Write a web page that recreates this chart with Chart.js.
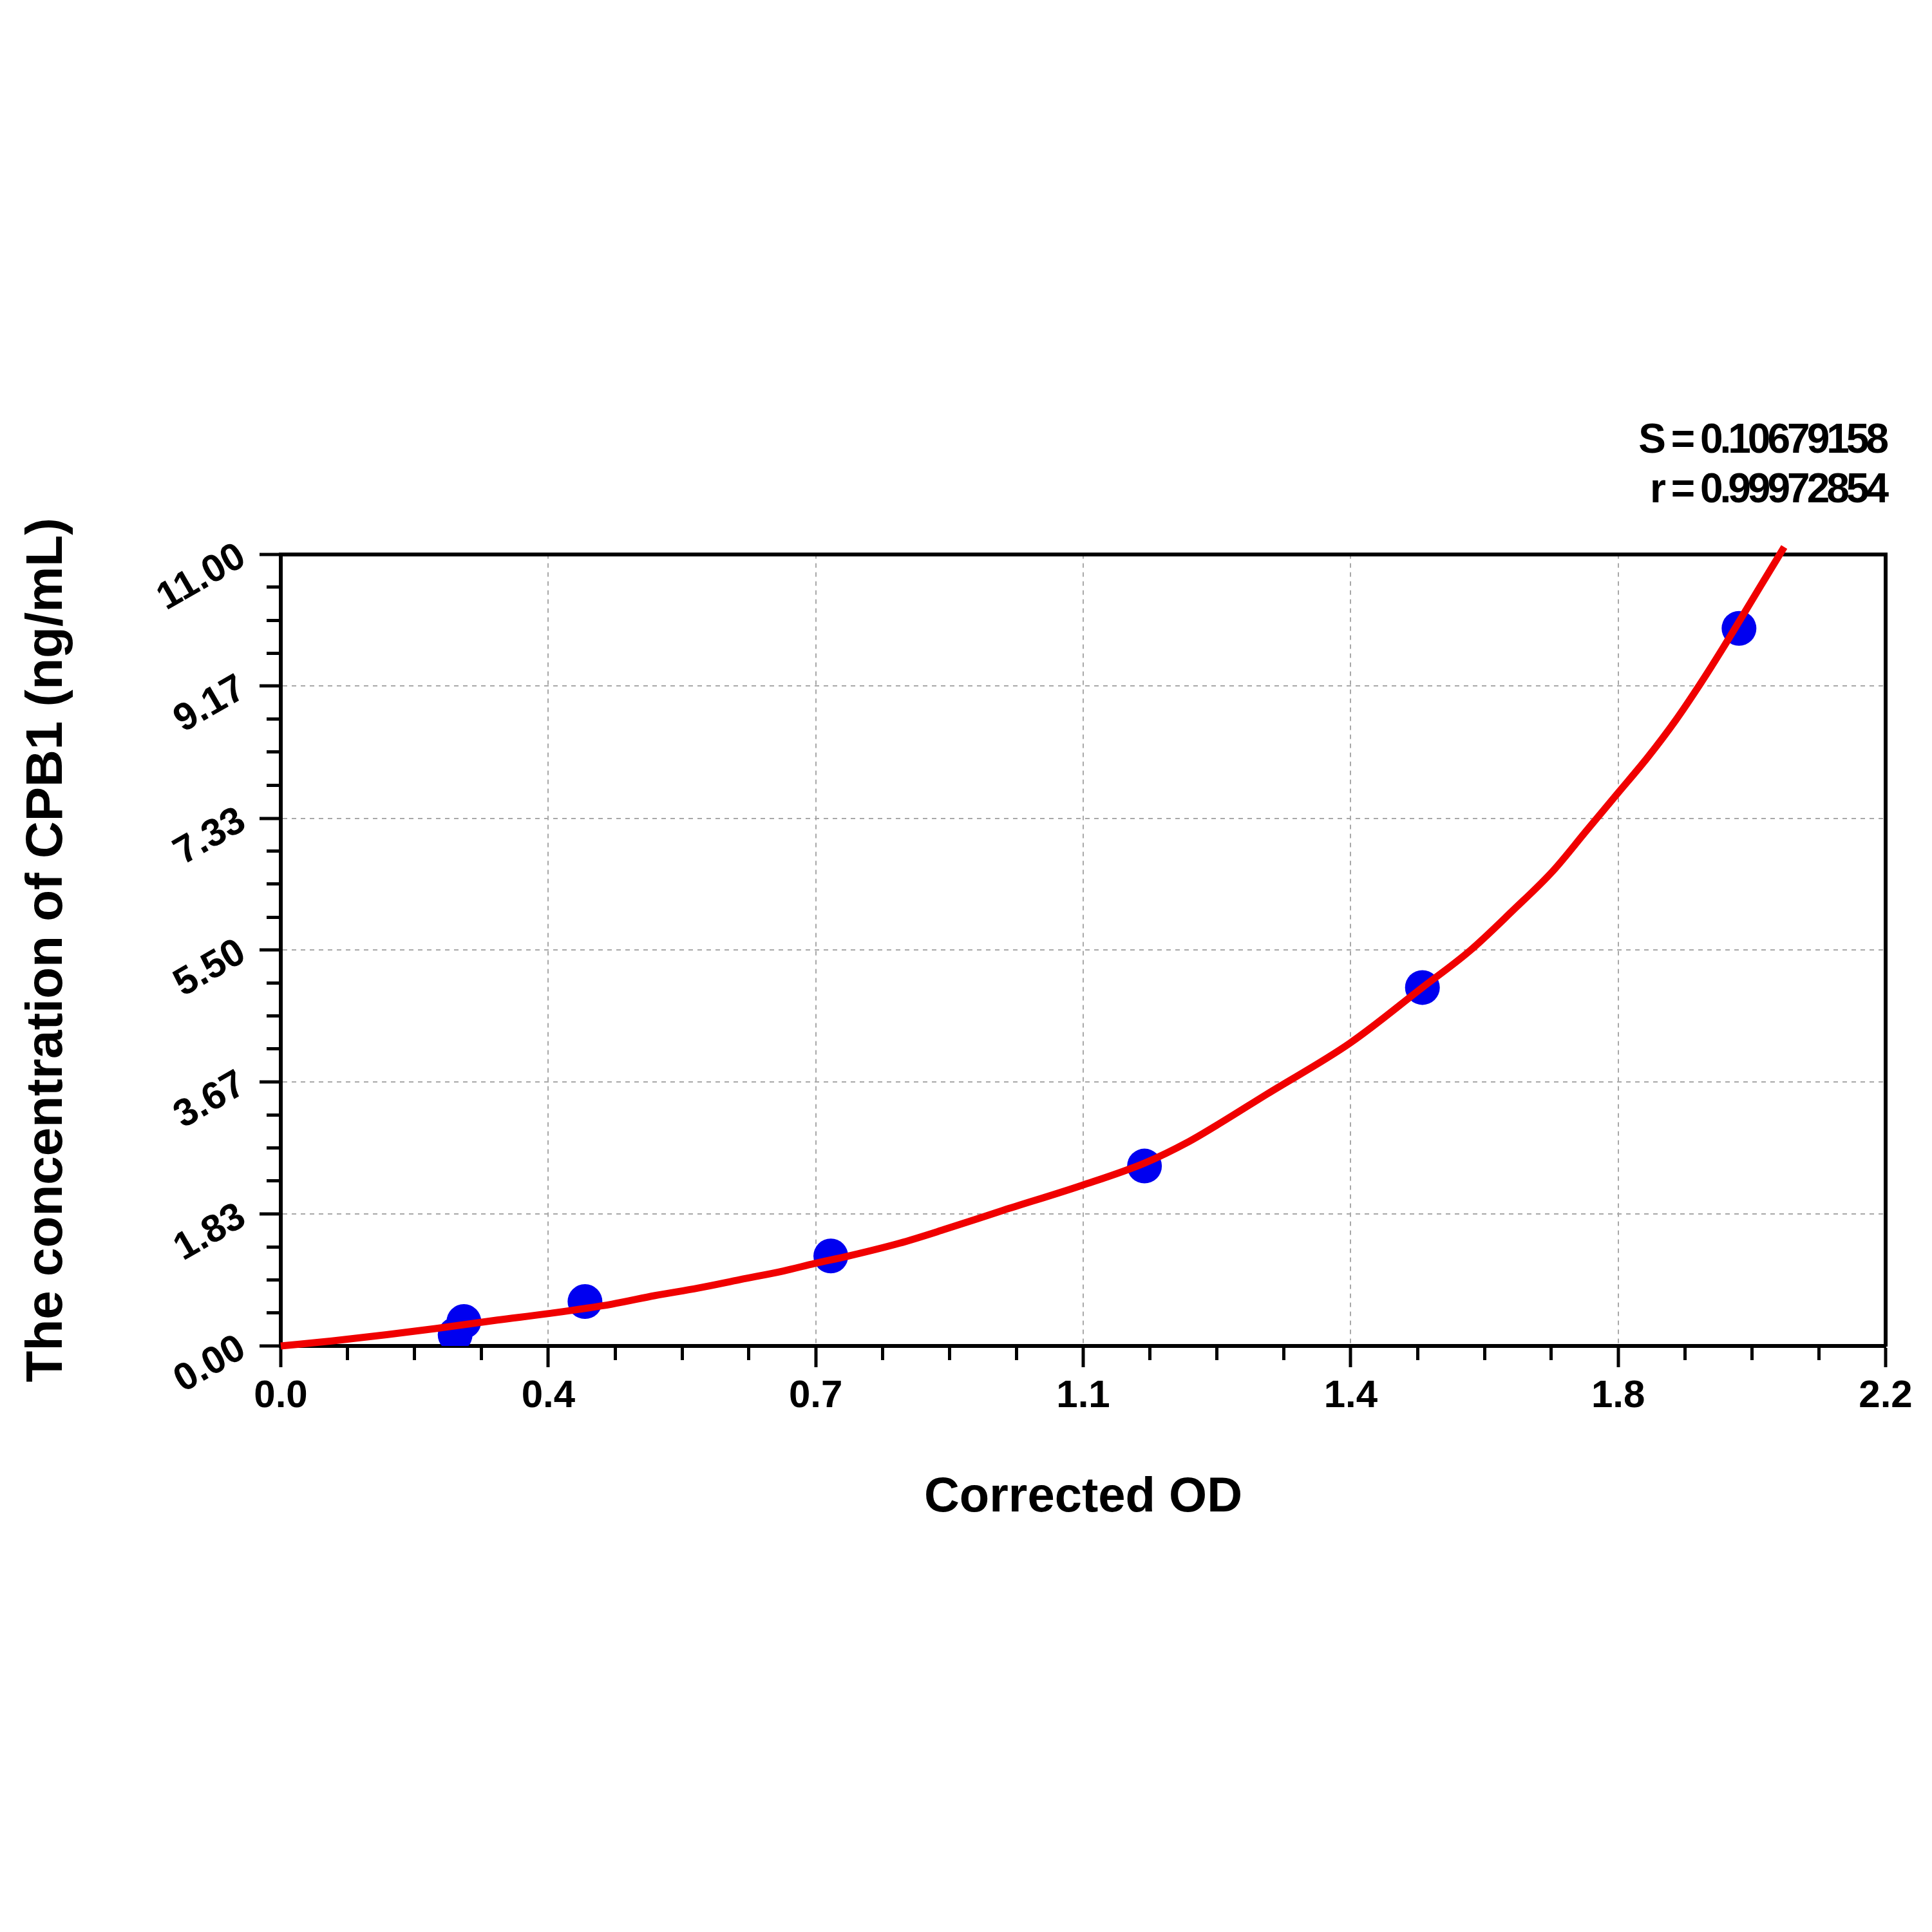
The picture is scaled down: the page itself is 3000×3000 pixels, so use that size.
<!DOCTYPE html>
<html>
<head>
<meta charset="utf-8">
<title>CPB1 standard curve</title>
<script src="https://cdn.jsdelivr.net/npm/chart.js@4.4.1/dist/chart.umd.min.js"></script>
<style>
  html, body { margin: 0; padding: 0; background: #fff; }
  #wrap { width: 3000px; height: 3000px; position: relative; }
</style>
</head>
<body>
<div id="wrap"><canvas id="curve-chart"></canvas></div>
<script>
// standards (blue dots)
const standardOD = [0.239, 0.251, 0.417, 0.754, 1.184, 1.565, 1.999];
const standardConc = [0.156, 0.34, 0.617, 1.25, 2.50, 4.98, 9.97];

// fitted curve (red line)
const fitOD = [0, 0.07, 0.145, 0.212, 0.297, 0.364, 0.454, 0.513, 0.572, 0.630, 0.689, 0.732, 0.778, 0.848, 0.911, 0.990, 1.098, 1.184, 1.245, 1.282, 1.352, 1.466, 1.565, 1.630, 1.689, 1.744, 1.790, 1.832, 1.874, 1.912, 1.946, 1.976, 2.031, 2.061];
const fitConc = [0, 0.07, 0.156, 0.241, 0.36, 0.446, 0.581, 0.70, 0.804, 0.923, 1.042, 1.146, 1.249, 1.427, 1.623, 1.883, 2.23, 2.54, 2.84, 3.06, 3.50, 4.21, 4.98, 5.49, 6.05, 6.60, 7.16, 7.67, 8.18, 8.69, 9.20, 9.68, 10.6, 11.1];

// axis ticks
const xTickValues = [0, 0.36667, 0.73333, 1.1, 1.46667, 1.83333, 2.2];
const xTickLabels = ['0.0', '0.4', '0.7', '1.1', '1.4', '1.8', '2.2'];
const yTickLabels = ['0.00', '1.83', '3.67', '5.50', '7.33', '9.17', '11.00'];

const statLines = ['S = 0.10679158', 'r = 0.99972854'];

const xMax = 2.2;
const yMax = 11;
const minorSteps = 24;

Chart.defaults.font.family = "'Liberation Sans', Arial, sans-serif";
Chart.defaults.font.weight = 'bold';
Chart.defaults.color = '#000';

function minorTicks(max) {
  return (axis) => {
    let t = [];
    for (let i = 0; i <= minorSteps; i++) {
      if (i % 4 !== 0) t.push({ value: i * max / minorSteps });
    }
    axis.ticks = t;
  };
}

// the S / r block is set in a narrow face in the original
const condenseStats = {
  id: 'condenseStats',
  afterLayout(chart) {
    const tb = chart.titleBlock;
    if (!tb || tb._condensed) return;
    const draw = tb.draw.bind(tb);
    tb.draw = function () {
      chart.ctx.save();
      chart.ctx.letterSpacing = '-5px';
      draw();
      chart.ctx.restore();
    };
    tb._condensed = true;
  }
};

const tickGrid = {
  color: '#a8a8a8',
  lineWidth: 2,
  tickColor: '#000',
  tickWidth: 5,
  tickLength: 33,
  tickBorderDash: []
};

let curveChart = new Chart(document.getElementById('curve-chart'), {
  type: 'scatter',
  data: {
    datasets: [{
      data: fitOD.map((v, i) => ({ x: v, y: fitConc[i] })),
      showLine: true,
      borderColor: '#f00000',
      borderWidth: 11,
      pointRadius: 0,
      cubicInterpolationMode: 'monotone',
      clip: false
    }, {
      data: standardOD.map((v, i) => ({ x: v, y: standardConc[i] })),
      backgroundColor: '#0000f0',
      borderWidth: 0,
      pointRadius: 27
    }]
  },
  plugins: [condenseStats],
  options: {
    responsive: true,
    maintainAspectRatio: false,
    devicePixelRatio: 1,
    animation: false,
    layout: {
      padding: { top: 647, right: 72, bottom: 628, left: 0 }
    },
    plugins: {
      legend: { display: false },
      tooltip: { enabled: false },
      title: {
        display: true,
        text: statLines,
        align: 'end',
        color: '#000',
        font: { size: 64, weight: 'bold' },
        padding: { top: 0, bottom: 60 }
      }
    },
    scales: {
      x: {
        type: 'linear',
        position: 'bottom',
        min: 0,
        max: xMax,
        afterBuildTicks: (axis) => { axis.ticks = xTickValues.map(v => ({ value: v })); },
        afterFit: (axis) => { axis.height = 282; },
        ticks: {
          font: { size: 60, weight: 'bold' },
          padding: 9,
          maxRotation: 0,
          callback: (v, i) => xTickLabels[i]
        },
        grid: tickGrid,
        border: { display: true, color: '#000', width: 6, dash: [7, 7] },
        title: {
          display: true,
          text: 'Corrected OD',
          font: { size: 76, weight: 'bold' },
          padding: { top: 0, bottom: 0 }
        }
      },
      y: {
        type: 'linear',
        position: 'left',
        min: 0,
        max: yMax,
        afterBuildTicks: (axis) => { axis.ticks = yTickLabels.map(l => ({ value: parseFloat(l) })); },
        afterFit: (axis) => { axis.width = 436; },
        ticks: {
          font: { size: 60, weight: 'bold' },
          padding: 26,
          minRotation: 30,
          maxRotation: 30,
          callback: (v, i) => yTickLabels[i]
        },
        grid: tickGrid,
        border: { display: true, color: '#000', width: 6, dash: [7, 7] },
        title: {
          display: true,
          text: 'The concentration of CPB1 (ng/mL)',
          font: { size: 80, weight: 'bold' },
          padding: { top: 26, bottom: 0 }
        }
      },
      // minor tick marks
      x2: {
        type: 'linear',
        position: { y: 0 },
        min: 0,
        max: xMax,
        afterBuildTicks: minorTicks(xMax),
        ticks: { display: false },
        grid: { drawOnChartArea: false, tickLength: 22, tickWidth: 5, tickColor: '#000' },
        border: { display: false }
      },
      y2: {
        type: 'linear',
        position: { x: 0 },
        min: 0,
        max: yMax,
        afterBuildTicks: minorTicks(yMax),
        ticks: { display: false },
        grid: { drawOnChartArea: false, tickLength: 22, tickWidth: 5, tickColor: '#000' },
        border: { display: false }
      },
      // top and right sides of the frame
      xTop: {
        type: 'linear',
        axis: 'x',
        position: { y: yMax },
        min: 0,
        max: xMax,
        ticks: { display: false },
        grid: { display: false },
        border: { display: true, color: '#000', width: 6 }
      },
      yRight: {
        type: 'linear',
        axis: 'y',
        position: { x: xMax },
        min: 0,
        max: yMax,
        ticks: { display: false },
        grid: { display: false },
        border: { display: true, color: '#000', width: 6 }
      }
    }
  }
});
</script>
</body>
</html>
